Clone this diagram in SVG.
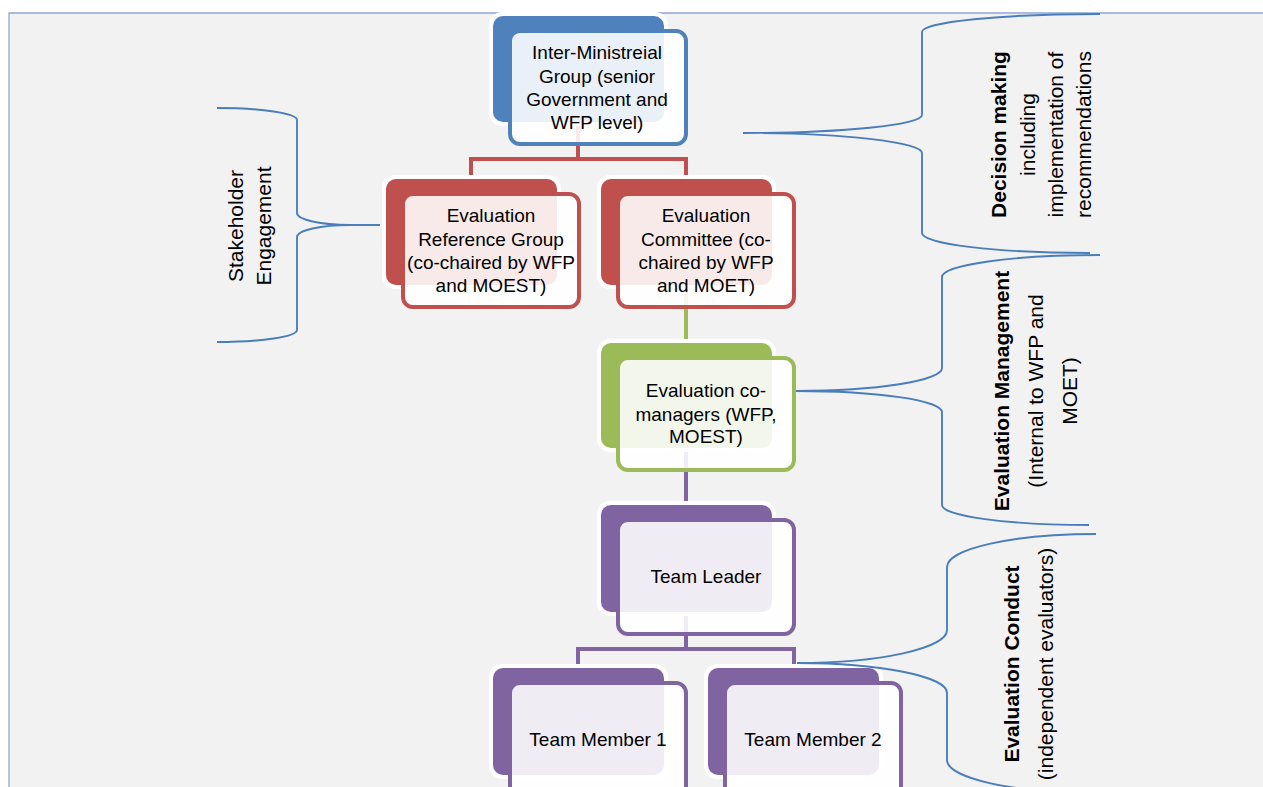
<svg xmlns="http://www.w3.org/2000/svg" width="1263" height="787" viewBox="0 0 1263 787">
<style>
.lbl{font-family:"Liberation Sans",Arial,sans-serif;font-size:19px;fill:#000;text-anchor:middle}
.side{font-family:"Liberation Sans",Arial,sans-serif;font-size:21px;fill:#000;text-anchor:middle}
.b{font-weight:bold}
.halo{fill:#fff}
.front{fill:#fff;fill-opacity:0.88;stroke-width:4}
.brace{fill:none;stroke:#4a7ebb;stroke-width:1.9}
.conn{fill:none;stroke-width:4}
</style>
<rect x="0" y="0" width="1263" height="787" fill="#fff"/>
<rect x="9" y="13" width="1254" height="774" fill="#f2f2f2"/>
<path d="M9,787 V13 H1263" fill="none" stroke="#8fa8d8" stroke-width="1.3"/>

<g id="connectors">
<path class="conn" stroke="#c0504d" d="M578,122 V159 M471,159 H686 M471,157 V181 M686,157 V181"/>
<path class="conn" stroke="#9bbb59" d="M686,285 V345"/>
<path class="conn" stroke="#8064a2" d="M686,448 V507 M686,611 V649 M578,649 H794 M578,647 V670 M794,647 V670"/>
</g>

<g id="node-img">
<rect class="halo" x="489" y="12" width="179" height="114" rx="13"/>
<rect x="493" y="16" width="171" height="106" rx="10" fill="#4f81bd"/>
<rect class="front" x="510" y="31" width="176" height="113" rx="10" stroke="#4f81bd"/>
<text class="lbl"><tspan x="597" y="59">Inter-Ministreial</tspan><tspan x="597" y="82.5">Group (senior</tspan><tspan x="597" y="106">Government and</tspan><tspan x="597" y="129">WFP level)</tspan></text>
</g>

<g id="node-erg">
<rect class="halo" x="382" y="175" width="179" height="114" rx="13"/>
<rect x="386" y="179" width="171" height="106" rx="10" fill="#c0504d"/>
<rect class="front" x="403" y="194" width="176" height="113" rx="10" stroke="#c0504d"/>
<text class="lbl"><tspan x="491" y="222">Evaluation</tspan><tspan x="491" y="246">Reference Group</tspan><tspan x="491" y="269">(co-chaired by WFP</tspan><tspan x="491" y="292">and MOEST)</tspan></text>
</g>

<g id="node-ec">
<rect class="halo" x="597" y="175" width="179" height="114" rx="13"/>
<rect x="601" y="179" width="171" height="106" rx="10" fill="#c0504d"/>
<rect class="front" x="618" y="194" width="176" height="113" rx="10" stroke="#c0504d"/>
<text class="lbl"><tspan x="706" y="222">Evaluation</tspan><tspan x="706" y="246">Committee (co-</tspan><tspan x="706" y="269">chaired by WFP</tspan><tspan x="706" y="292">and MOET)</tspan></text>
</g>

<g id="node-ecm">
<rect class="halo" x="597" y="339" width="179" height="113" rx="13"/>
<rect x="601" y="343" width="171" height="105" rx="10" fill="#9bbb59"/>
<rect class="front" x="618" y="358" width="176" height="112" rx="10" stroke="#9bbb59"/>
<text class="lbl"><tspan x="706" y="397">Evaluation co-</tspan><tspan x="706" y="420.5">managers (WFP,</tspan><tspan x="706" y="443">MOEST)</tspan></text>
</g>

<g id="node-tl">
<rect class="halo" x="597" y="501" width="179" height="115" rx="13"/>
<rect x="601" y="505" width="171" height="107" rx="10" fill="#8064a2"/>
<rect class="front" x="618" y="520" width="176" height="114" rx="10" stroke="#8064a2"/>
<text class="lbl" x="706" y="583">Team Leader</text>
</g>

<g id="node-tm1">
<rect class="halo" x="489" y="664" width="179" height="115" rx="13"/>
<rect x="493" y="668" width="171" height="107" rx="10" fill="#8064a2"/>
<rect class="front" x="510" y="683" width="176" height="114" rx="10" stroke="#8064a2"/>
<text class="lbl" x="598" y="746">Team Member 1</text>
</g>

<g id="node-tm2">
<rect class="halo" x="704" y="664" width="179" height="115" rx="13"/>
<rect x="708" y="668" width="171" height="107" rx="10" fill="#8064a2"/>
<rect class="front" x="725" y="683" width="176" height="114" rx="10" stroke="#8064a2"/>
<text class="lbl" x="813" y="746">Team Member 2</text>
</g>

<g id="brace-stakeholder">
<path class="brace" d="M217,108 A80,12 0 0 1 297,120 V213 A53,12 0 0 0 350,225 L380,225 M350,225 A53,12 0 0 0 297,237 V330 A80,12 0 0 1 217,342"/>
<text class="side" transform="translate(243,226) rotate(-90)"><tspan x="0" y="0">Stakeholder</tspan><tspan x="0" y="28">Engagement</tspan></text>
</g>

<g id="brace-decision">
<path class="brace" d="M1100,14 A178,18 0 0 0 922,32 V115 A179,18 0 0 1 743,133 A179,20 0 0 1 922,153 V233 A168,20 0 0 0 1090,253"/>
<text class="side" transform="translate(1006,134.5) rotate(-90)"><tspan class="b" x="0" y="0">Decision making</tspan><tspan x="0" y="29">including</tspan><tspan x="0" y="57">implementation of</tspan><tspan x="0" y="85">recommendations</tspan></text>
</g>

<g id="brace-management">
<path class="brace" d="M1100,255 A158,22 0 0 0 942,277 V368 A146,23 0 0 1 796,391 A146,21 0 0 1 942,412 V505 A147,20 0 0 0 1089,525"/>
<text class="side" transform="translate(1009,391) rotate(-90)"><tspan class="b" x="0" y="0">Evaluation Management</tspan><tspan x="0" y="34">(Internal to WFP and</tspan><tspan x="0" y="68">MOET)</tspan></text>
</g>

<g id="brace-conduct">
<path class="brace" d="M1096,534 A149,33 0 0 0 947,567 V630 A150,33 0 0 1 797,663 A150,30 0 0 1 947,693 V760 A149,33 0 0 0 1096,793"/>
<text class="side" transform="translate(1019,664) rotate(-90)"><tspan class="b" x="0" y="0">Evaluation Conduct</tspan><tspan x="0" y="34">(independent evaluators)</tspan></text>
</g>
</svg>
